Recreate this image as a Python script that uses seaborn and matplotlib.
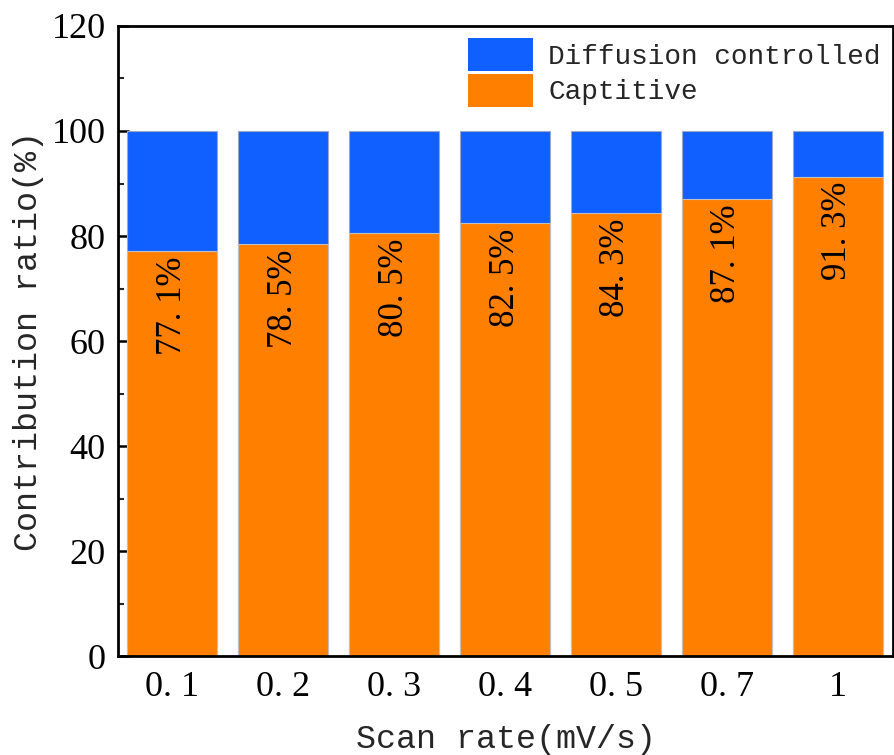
import matplotlib
matplotlib.use("Agg")
import matplotlib.pyplot as plt
import seaborn as sns
import pandas as pd
from matplotlib.ticker import MultipleLocator
from matplotlib.patches import Patch

scan_rates = ["0.1", "0.2", "0.3", "0.4", "0.5", "0.7", "1"]
capacitive = [77.1, 78.5, 80.5, 82.5, 84.3, 87.1, 91.3]
total = [100, 100, 100, 100, 100, 100, 100]
tick_labels = ["0. 1", "0. 2", "0. 3", "0. 4", "0. 5", "0. 7", "1"]

blue = "#1060FF"
orange = "#FF8000"

sns.set_theme(style="ticks")
plt.rcParams["font.family"] = ["Liberation Mono", "DejaVu Sans"]
num_font = ["Liberation Serif", "DejaVu Serif"]

df = pd.DataFrame({"rate": scan_rates, "cap": capacitive, "total": total})

fig = plt.figure(figsize=(8.94, 7.55), dpi=100)
ax = fig.add_axes([0.132, 0.131, 0.867, 0.8346])

sns.barplot(data=df, x="rate", y="total", color=blue, saturation=1, width=0.81,
            edgecolor="#9aa7c8", linewidth=0.8, ax=ax)
sns.barplot(data=df, x="rate", y="cap", color=orange, saturation=1, width=0.81,
            edgecolor="#c0c0c0", linewidth=0.8, ax=ax)

for i, v in enumerate(capacitive):
    s = f"{v:.1f}".replace(".", ". ") + "%"
    ax.text(i, v - 1.0, s, rotation=90, ha="center", va="top",
            fontsize=25, color="black", family=num_font)

ax.set_xlim(-0.49, 6.5)
ax.set_ylim(0, 120)
ax.yaxis.set_major_locator(MultipleLocator(20))
ax.yaxis.set_minor_locator(MultipleLocator(10))
ax.set_xticks(range(len(scan_rates)))
ax.set_xticklabels(tick_labels)
ax.tick_params(axis="both", which="major", direction="in", length=8, width=1.8,
               labelsize=26, colors="black", pad=9)
ax.tick_params(axis="x", which="major", pad=11)
ax.tick_params(axis="y", which="minor", direction="in", length=4.5, width=1.5)
ax.tick_params(axis="x", which="minor", bottom=False)
for lab in ax.get_xticklabels() + ax.get_yticklabels():
    lab.set_family(num_font)
for s in ax.spines.values():
    s.set_linewidth(2)
    s.set_color("black")
    s.set_visible(True)

ax.set_xlabel("Scan rate(mV/s)", fontsize=24, labelpad=14)
ax.set_ylabel("Contribution ratio(%)", fontsize=24, labelpad=5)

handles = [Patch(facecolor=blue, edgecolor="none"), Patch(facecolor=orange, edgecolor="none")]
ax.legend(handles, ["Diffusion controlled", "Captitive"], loc="upper right",
          frameon=False, fontsize=20, handlelength=2.35, handleheight=1.45,
          handletextpad=0.55, labelspacing=0.08, borderaxespad=0.0,
          borderpad=0.45, bbox_to_anchor=(1.0, 1.0))

fig.savefig("out.png", dpi=100)
